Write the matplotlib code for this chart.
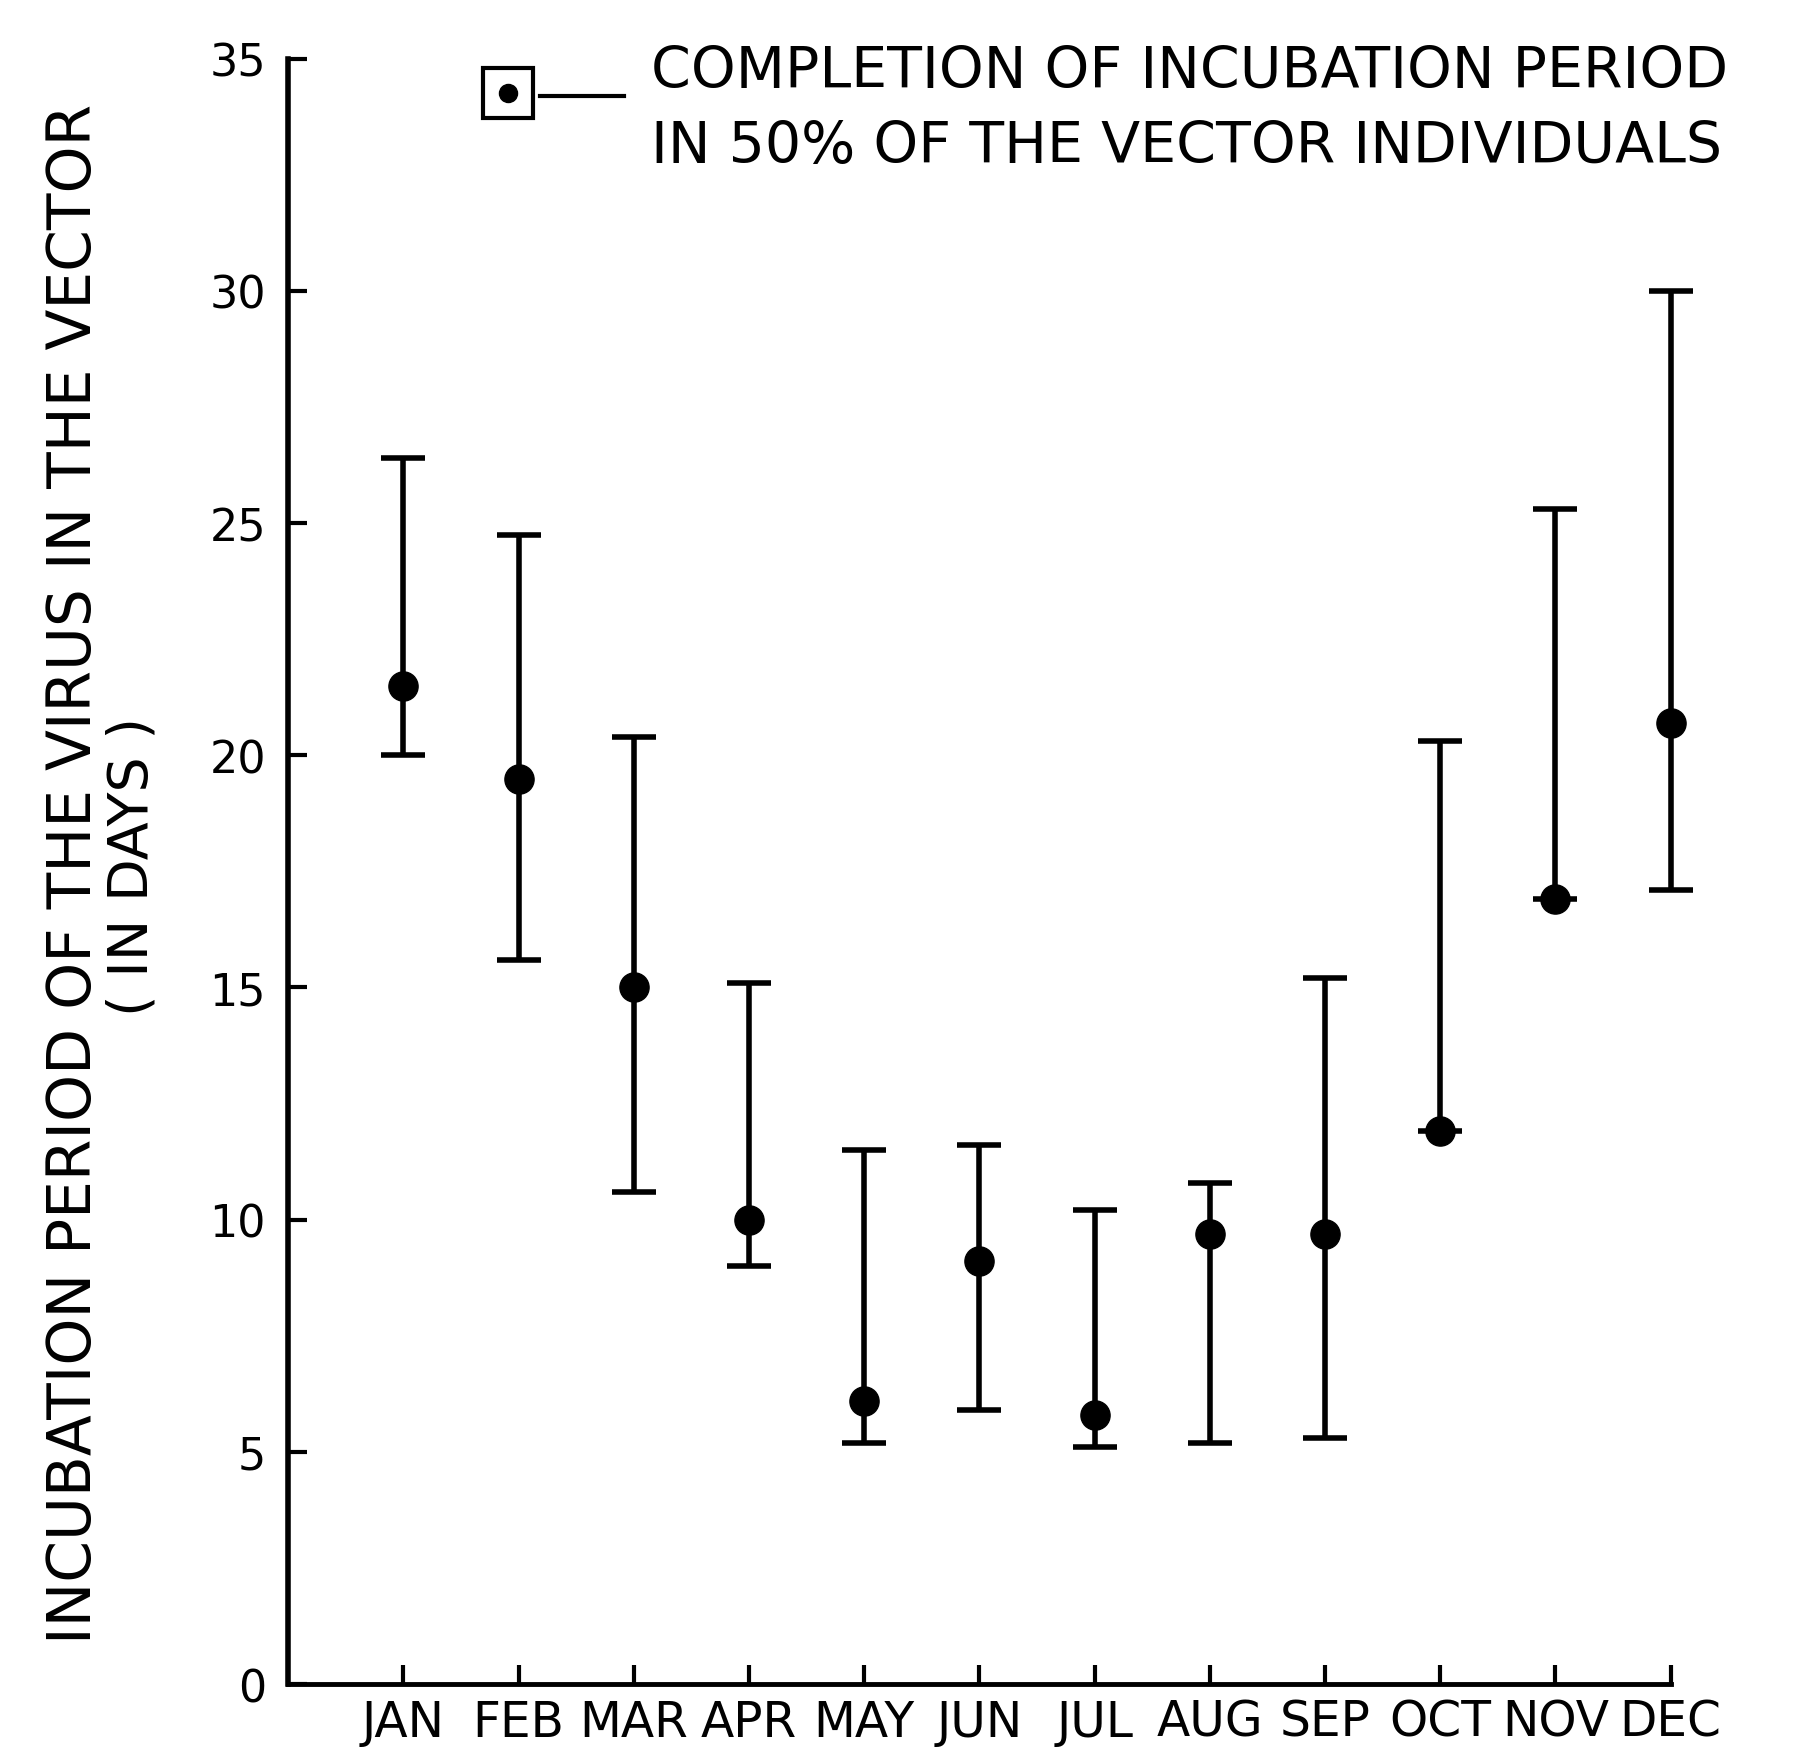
import matplotlib
matplotlib.use("Agg")
import matplotlib.pyplot as plt
import numpy as np

# values (days)
months = ["JAN", "FEB", "MAR", "APR", "MAY", "JUN", "JUL", "AUG", "SEP", "OCT", "NOV", "DEC"]
median_days = [21.5, 19.5, 15.0, 10.0, 6.1, 9.1, 5.8, 9.7, 9.7, 11.9, 16.9, 20.7]
low_days = [20.0, 15.6, 10.6, 9.0, 5.2, 5.9, 5.1, 5.2, 5.3, 11.9, 16.9, 17.1]
high_days = [26.4, 24.75, 20.4, 15.1, 11.5, 11.6, 10.2, 10.8, 15.2, 20.3, 25.3, 30.0]
yticks = [0, 5, 10, 15, 20, 25, 30, 35]

plt.rcParams['font.family'] = ['DejaVu Sans']

fig = plt.figure(figsize=(18.12, 17.58), dpi=100)
ax = fig.add_axes([0.159, 0.0415, 0.763, 0.9245])

x = np.arange(1, len(months) + 1)
med = np.array(median_days)
yerr = [med - np.array(low_days), np.array(high_days) - med]
eb = ax.errorbar(x, med, yerr=yerr, fmt='o', color='black', ms=21,
                 elinewidth=4, capsize=16, capthick=4)
# last month sits right on the axis end, don't cut it off
arts = [eb.lines[0]] + list(eb.lines[1]) + list(eb.lines[2])
for art in arts:
    art.set_clip_on(False)

ax.set_xlim(0, 12)
ax.set_ylim(0, 35)
ax.set_xticks(x)
ax.set_xticklabels(months, fontsize=35)
ax.set_yticks(yticks)
ax.set_yticklabels([str(v) for v in yticks], fontsize=32)
ax.tick_params(axis='x', direction='in', length=14, width=3, pad=10)
ax.tick_params(axis='y', direction='in', length=14, width=3, pad=16)
for s in ['top', 'right']:
    ax.spines[s].set_visible(False)
ax.spines['left'].set_linewidth(4)
ax.spines['bottom'].set_linewidth(3.5)

# y axis title, two lines
fig.text(0.041, 0.503, "INCUBATION PERIOD OF THE VIRUS IN THE VECTOR",
         rotation=90, ha='center', va='center', fontsize=43)
fig.text(0.073, 0.507, "( IN DAYS )", rotation=90, ha='center', va='center', fontsize=40)

# legend key
ax.plot([0.159], [0.979], marker='s', ms=36, mfc='white', mec='black', mew=3,
        transform=ax.transAxes, clip_on=False)
ax.plot([0.159], [0.979], marker='o', ms=13, color='black',
        transform=ax.transAxes, clip_on=False)
ax.plot([0.182, 0.243], [0.977, 0.977], color='black', lw=3,
        transform=ax.transAxes, clip_on=False)
fig.text(0.359, 0.950, "COMPLETION OF INCUBATION PERIOD", fontsize=41, va='baseline')
fig.text(0.359, 0.907, "IN 50% OF THE VECTOR INDIVIDUALS", fontsize=41, va='baseline')

fig.savefig("out.png", dpi=100)
